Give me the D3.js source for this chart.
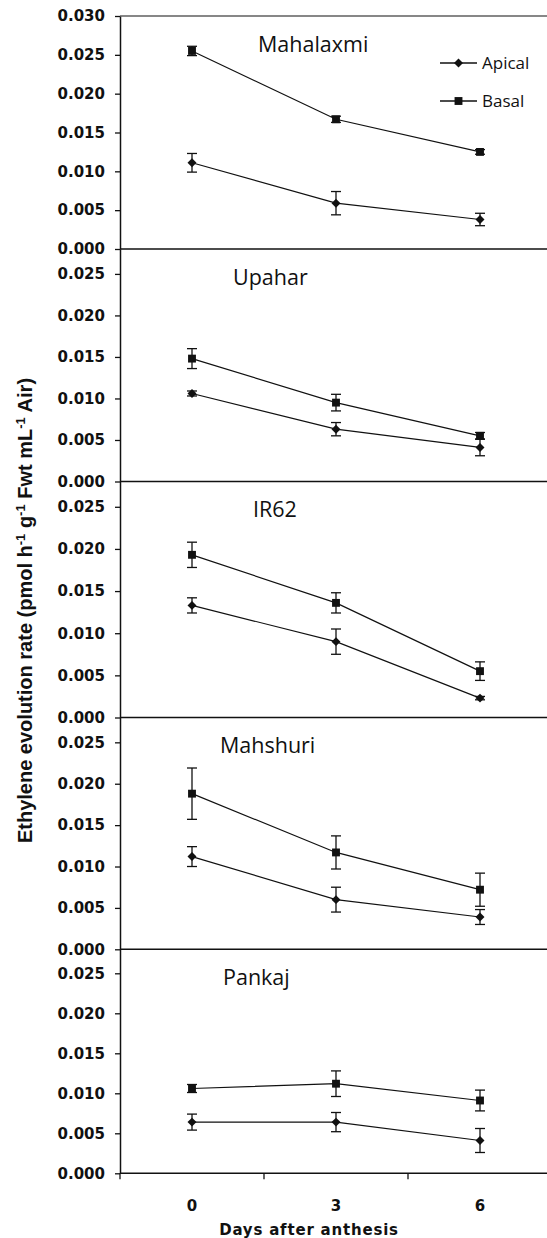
<!DOCTYPE html>
<html lang="en">
<head>
<meta charset="UTF-8">
<title>Ethylene evolution rate</title>
<script src="https://d3js.org/d3.v7.min.js"></script>
<style>
  body { margin: 0; background: #fff; }
  .tick text { font-family: "DejaVu Sans", sans-serif; font-weight: bold; font-size: 15px; fill: #111; }
  .title { font-family: "Open Sans", sans-serif; font-size: 21.5px; fill: #111; }
  .legend text { font-family: "Open Sans", sans-serif; font-size: 17px; fill: #111; }
  .ylabel { font-family: "Liberation Sans", Arial, sans-serif; font-weight: bold; font-size: 20px; fill: #111; }
  .xlabel { font-family: "DejaVu Sans", sans-serif; font-weight: bold; font-size: 15px; letter-spacing: 0.8px; fill: #111; }
</style>
</head>
<body>
<div id="chart"></div>
<script>
// data
const days = ["0", "3", "6"];
const cultivars = ["Mahalaxmi", "Upahar", "IR62", "Mahshuri", "Pankaj"];
const seriesNames = ["Apical", "Basal"];

const apical = [
  [0.0111, 0.0059, 0.0038],
  [0.0106, 0.0063, 0.0041],
  [0.0133, 0.0090, 0.0023],
  [0.0112, 0.0060, 0.0039],
  [0.0064, 0.0064, 0.0041]
];
const apicalErr = [
  [0.0012, 0.0015, 0.0008],
  [0.0003, 0.0008, 0.0010],
  [0.0009, 0.0015, 0.0002],
  [0.0012, 0.0015, 0.0009],
  [0.0010, 0.0012, 0.0015]
];
const basal = [
  [0.0255, 0.0167, 0.0125],
  [0.0148, 0.0095, 0.0055],
  [0.0193, 0.0136, 0.0055],
  [0.0188, 0.0117, 0.0072],
  [0.0106, 0.0112, 0.0091]
];
const basalErr = [
  [0.0006, 0.0004, 0.0003],
  [0.0012, 0.0010, 0.0004],
  [0.0015, 0.0012, 0.0011],
  [0.0031, 0.0020, 0.0020],
  [0.0005, 0.0016, 0.0013]
];
const yMax = [0.030, 0.028, 0.028, 0.028, 0.028];

// layout
const W = 547, H = 1238;
const left = 120, band = 144;
const panelEdges = [16, 249, 481.5, 717.5, 949.3, 1173.3];
const titleX = [258, 233, 253, 220, 223];

const svg = d3.select("#chart").append("svg")
    .attr("width", W)
    .attr("height", H);

const x = d3.scaleBand()
    .domain(days)
    .range([left, left + band * days.length])
    .padding(0);

const cx = d => x(d) + x.bandwidth() / 2;

const diamond = d3.symbol().type(d3.symbolSquare).size(40);
const square = d3.symbol().type(d3.symbolSquare).size(62);

cultivars.forEach((name, p) => {
  const top = panelEdges[p], bottom = panelEdges[p + 1];
  const y = d3.scaleLinear().domain([0, yMax[p]]).range([bottom, top]);
  const g = svg.append("g");

  // y axis
  const ticks = d3.range(0, yMax[p] + 1e-9, 0.005);
  g.append("g")
      .attr("transform", `translate(${left},0)`)
      .call(d3.axisLeft(y).tickValues(ticks).tickFormat(d3.format(".3f"))
        .tickSize(5).tickPadding(10).tickSizeOuter(0))
      .call(a => a.select(".domain").attr("stroke", "#111").attr("stroke-width", 1.5))
      .call(a => a.selectAll(".tick line").attr("stroke", "#111").attr("stroke-width", 1.3));

  // baseline
  g.append("line")
      .attr("x1", left).attr("x2", W + 10)
      .attr("y1", y(0)).attr("y2", y(0))
      .attr("stroke", "#111").attr("stroke-width", 1.5);

  if (p === 0) {
    g.append("line")
        .attr("x1", left).attr("x2", W + 10)
        .attr("y1", y(yMax[0])).attr("y2", y(yMax[0]))
        .attr("stroke", "#111").attr("stroke-width", 1.2);
  }

  g.append("text")
      .attr("class", "title")
      .attr("x", titleX[p])
      .attr("y", top + 28)
      .attr("dy", "0.35em")
      .text(name);

  const series = [
    {key: "Apical", vals: apical[p], errs: apicalErr[p], sym: diamond, rot: 45},
    {key: "Basal", vals: basal[p], errs: basalErr[p], sym: square, rot: 0}
  ];

  series.forEach(s => {
    const pts = days.map((d, i) => ({d: d, v: s.vals[i], e: s.errs[i]}));

    g.append("path")
        .datum(pts)
        .attr("fill", "none")
        .attr("stroke", "#111")
        .attr("stroke-width", 1.2)
        .attr("d", d3.line().x(d => cx(d.d)).y(d => y(d.v)));

    const eb = g.selectAll(null).data(pts).enter().append("g");
    eb.append("line")
        .attr("x1", d => cx(d.d)).attr("x2", d => cx(d.d))
        .attr("y1", d => y(d.v - d.e)).attr("y2", d => y(d.v + d.e))
        .attr("stroke", "#111").attr("stroke-width", 1.3);
    [-1, 1].forEach(sgn => {
      eb.append("line")
          .attr("x1", d => cx(d.d) - 5).attr("x2", d => cx(d.d) + 5)
          .attr("y1", d => y(d.v + sgn * d.e)).attr("y2", d => y(d.v + sgn * d.e))
          .attr("stroke", "#111").attr("stroke-width", 1.3);
    });

    g.selectAll(null).data(pts).enter().append("path")
        .attr("d", s.sym)
        .attr("transform", d => `translate(${cx(d.d)},${y(d.v)}) rotate(${s.rot})`)
        .attr("fill", "#111");
  });

  // bottom panel gets the category axis
  if (p === cultivars.length - 1) {
    g.append("g")
        .attr("transform", `translate(0,${bottom})`)
        .call(d3.axisBottom(x).tickSize(0).tickPadding(27))
        .call(a => a.select(".domain").remove());
    const edges = days.map(d => x(d)).concat([x.range()[1]]);
    g.selectAll(null).data(edges).enter().append("line")
        .attr("x1", d => d).attr("x2", d => d)
        .attr("y1", bottom).attr("y2", bottom + 6)
        .attr("stroke", "#111").attr("stroke-width", 1.3);
  }
});

// legend
const legend = svg.append("g")
    .attr("class", "legend")
  .selectAll("g")
    .data(seriesNames)
    .enter().append("g")
    .attr("transform", (d, i) => `translate(440,${63 + i * 38})`);

legend.append("line")
    .attr("x1", 0).attr("x2", 37)
    .attr("stroke", "#111").attr("stroke-width", 1.3);
legend.append("path")
    .attr("d", (d, i) => (i === 0 ? diamond : square)())
    .attr("transform", (d, i) => `translate(18.5,0) rotate(${i === 0 ? 45 : 0})`)
    .attr("fill", "#111");
legend.append("text")
    .attr("x", 42)
    .attr("dy", "0.36em")
    .text(d => d);

// axis titles
const yl = svg.append("text")
    .attr("class", "ylabel")
    .attr("transform", `translate(32,${(373 + 848) / 2}) rotate(-90)`)
    .attr("text-anchor", "middle");
yl.append("tspan").text("Ethylene evolution rate (pmol h");
yl.append("tspan").attr("baseline-shift", "super").attr("font-size", "13px").text("-1");
yl.append("tspan").text(" g");
yl.append("tspan").attr("baseline-shift", "super").attr("font-size", "13px").text("-1");
yl.append("tspan").text(" Fwt mL");
yl.append("tspan").attr("baseline-shift", "super").attr("font-size", "13px").text("-1");
yl.append("tspan").text(" Air)");

svg.append("text")
    .attr("class", "xlabel")
    .attr("x", 309)
    .attr("y", 1230)
    .attr("dy", "0.35em")
    .attr("text-anchor", "middle")
    .text("Days after anthesis");
</script>
</body>
</html>
